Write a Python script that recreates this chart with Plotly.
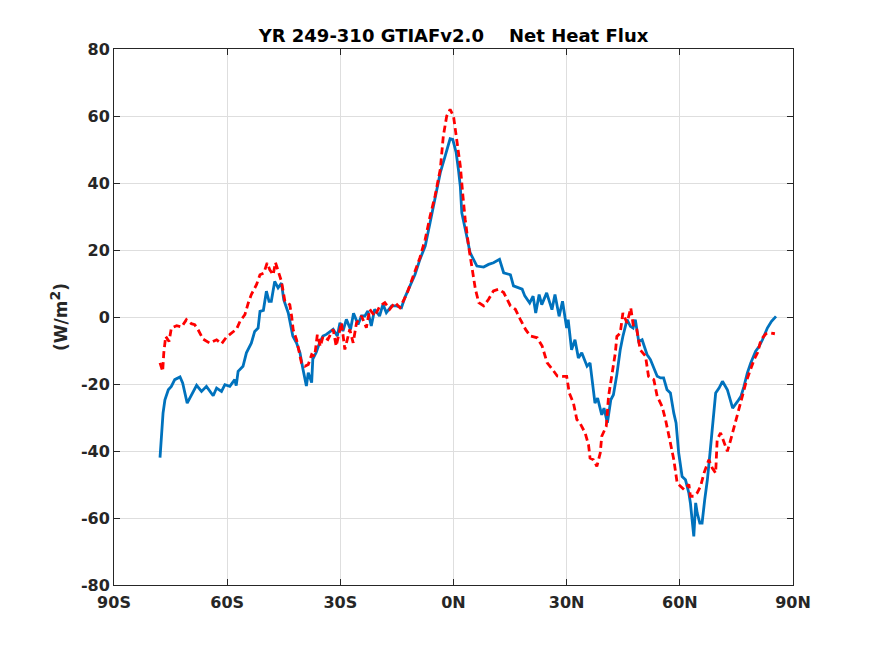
import plotly.graph_objects as go

# blue (solid) series: latitude and net heat flux
lat_blue = [-77.8, -77.4, -77.0, -76.5, -75.6, -74.8, -73.9, -72.5, -71.8, -70.6, -69.5,
            -68.1, -66.8, -65.5, -63.7, -62.8, -61.5, -60.6, -59.3, -58.0, -57.6, -57.1,
            -55.8, -54.9, -53.6, -52.7, -51.8, -51.3, -50.4, -49.6, -48.9, -48.3, -47.4,
            -46.5, -45.6, -45.0, -43.8, -42.6, -41.6, -40.7, -39.9, -39.0, -38.5, -37.6,
            -37.3, -36.4, -35.5, -34.6, -33.7, -31.9, -30.8, -30.1, -29.3, -28.4, -27.3,
            -26.5, -25.3, -24.4, -23.5, -22.7, -21.8, -20.9, -19.6, -18.7, -17.8, -16.4,
            -15.1, -13.8, -12.9, -11.5, -10.2, -8.9, -7.5, -6.2, -4.9, -3.5, -2.2, -0.9,
            -0.2, 0.7, 1.3, 1.8, 2.2, 2.8, 3.5, 4.4, 5.3, 6.2, 8.0, 9.3, 10.6, 12.2, 13.3,
            15.1, 15.9, 17.3, 18.2, 18.9, 20.2, 21.1, 21.8, 22.7, 23.4, 24.7, 26.1, 26.9,
            28.0, 28.9, 30.0, 30.4, 31.3, 32.2, 33.1, 34.0, 35.4, 36.2, 37.5, 38.2, 39.3,
            39.9, 40.8, 41.7, 42.4, 43.3, 44.2, 44.9, 46.0, 46.9, 47.6, 48.2, 49.1, 50.0,
            51.3, 52.2, 54.0, 54.9, 55.7, 56.6, 57.5, 58.4, 59.0, 59.7, 60.6, 61.5, 62.4,
            62.8, 63.3, 63.7, 64.2, 64.6, 65.3, 65.9, 66.6, 67.3, 68.0, 68.6, 69.5, 70.4,
            71.3, 72.6, 74.0, 75.3, 76.2, 77.0, 77.9, 78.8, 80.1, 81.0, 81.9, 83.2, 84.3,
            85.5]
flux_blue = [-42.0, -35.6, -28.7, -24.7, -21.7, -20.7, -18.7, -17.9, -19.7, -25.7, -23.2,
             -20.4, -22.2, -20.7, -23.5, -21.2, -22.2, -20.2, -20.7, -18.7, -20.5, -16.2,
             -14.7, -10.7, -7.8, -4.3, -3.3, 1.7, 2.0, 7.7, 4.7, 4.7, 10.6, 8.7, 10.1,
             5.2, 1.2, -5.7, -7.8, -10.7, -15.6, -20.6, -16.6, -19.6, -12.6, -10.6, -7.7,
             -5.7, -5.2, -3.7, -5.7, -1.7, -4.2, -0.7, -3.7, 1.1, -2.2, 0.3, 0.3, 1.8,
             -2.7, 2.3, 0.3, 3.8, 1.3, 3.3, 3.3, 2.8, 5.8, 9.3, 12.7, 17.2, 21.2, 28.2,
             35.1, 43.1, 48.1, 53.2, 53.0, 49.1, 44.1, 39.1, 31.1, 28.2, 24.2, 19.2, 17.2,
             15.2, 14.9, 15.7, 16.2, 17.2, 13.2, 12.6, 9.3, 8.7, 8.3, 6.3, 4.2, 6.2, 1.2,
             6.7, 3.7, 7.2, 2.2, 6.7, 0.2, 4.7, -3.3, -0.8, -9.8, -6.8, -12.2, -10.7,
             -14.7, -13.7, -25.7, -24.2, -29.2, -27.2, -31.6, -24.7, -23.2, -17.2, -9.8,
             -5.8, -0.8, -2.8, -3.3, -0.8, -7.3, -6.8, -11.2, -12.7, -17.7, -18.2, -18.2,
             -21.7, -22.7, -28.7, -31.6, -40.6, -47.6, -48.6, -52.6, -55.5, -61.5, -65.5,
             -55.5, -58.5, -61.5, -61.5, -54.5, -48.6, -40.6, -32.6, -22.7, -21.2, -19.2,
             -21.7, -27.2, -25.2, -23.7, -20.7, -16.7, -13.7, -10.2, -8.8, -6.8, -3.3,
             -1.3, 0.2, 2.4]

# red (dashed) series, ten values per row in both lists
lat_red = [-77.8, -77.1, -76.8, -76.3, -75.4, -74.8, -73.4, -72.1, -70.8, -69.5,
           -68.6, -67.7, -66.4, -64.6, -62.8, -61.5, -60.2, -58.9, -57.5, -56.6,
           -55.3, -54.4, -53.6, -52.2, -51.3, -50.3, -49.4, -48.7, -47.8, -47.2,
           -46.5, -45.6, -44.7, -43.4, -42.9, -42.5, -41.6, -40.7, -40.3, -39.4,
           -38.5, -37.6, -36.8, -36.1, -35.3, -34.6, -33.3, -31.9, -31.1, -29.7,
           -28.8, -27.5, -26.6, -25.7, -24.4, -23.1, -22.2, -20.9, -19.5, -18.2,
           -16.9, -15.5, -14.2, -12.4, -11.5, -10.2, -8.9, -7.5, -6.2, -4.9,
           -3.5, -2.7, -1.8, -0.9, 0.0, 0.9, 1.8, 2.5, 3.1, 4.0,
           4.9, 5.8, 6.7, 8.0, 9.3, 10.6, 12.0, 13.3, 15.1, 16.4,
           17.7, 19.1, 20.4, 22.2, 23.5, 24.8, 26.2, 27.5, 28.9, 30.0,
           30.7, 31.8, 32.7, 33.5, 34.9, 35.8, 36.2, 37.1, 38.0, 38.9,
           39.3, 40.5, 41.1, 42.0, 42.9, 43.3, 44.2, 44.9, 46.0, 47.0,
           47.7, 48.6, 49.5, 50.9, 51.7, 53.1, 54.0, 55.3, 56.2, 57.5,
           58.4, 59.3, 60.2, 61.1, 62.4, 62.8, 63.7, 64.6, 65.5, 66.4,
           67.7, 68.6, 69.5, 69.9, 70.8, 71.7, 72.6, 73.5, 74.4, 75.7,
           76.6, 77.5, 78.4, 79.7, 80.6, 81.5, 82.8, 84.2, 85.2]
flux_red = [-13.7, -16.2, -10.7, -5.8, -7.3, -3.3, -2.6, -3.0, -0.8, -2.0,
            -2.3, -3.8, -6.6, -7.8, -6.8, -8.0, -6.0, -4.8, -3.6, -1.3,
            0.7, 4.2, 6.7, 9.7, 12.6, 13.1, 16.1, 14.1, 12.6, 16.3,
            13.6, 10.6, 4.7, 3.7, 0.2, -3.8, -6.8, -11.2, -13.7, -14.7,
            -14.2, -11.2, -11.7, -5.3, -8.8, -5.8, -6.7, -3.7, -8.7, -1.7,
            -9.7, -3.7, -7.7, -1.7, 0.3, -3.2, 2.3, 0.3, 3.3, 4.3,
            2.3, 4.3, 2.8, 6.8, 9.8, 13.7, 17.7, 23.2, 30.1, 36.1,
            44.1, 54.0, 60.0, 62.0, 60.0, 53.0, 45.1, 36.1, 29.2, 21.2,
            15.2, 8.3, 4.3, 3.3, 5.3, 7.8, 8.3, 7.3, 3.3, 2.3,
            -0.7, -3.7, -5.7, -6.2, -8.7, -13.6, -15.6, -17.6, -17.7, -17.7,
            -22.7, -25.7, -30.6, -31.6, -34.6, -38.2, -42.1, -42.6, -44.6, -40.6,
            -35.6, -32.6, -23.7, -16.7, -10.7, -5.8, -4.8, 1.2, -1.8, 2.7,
            -2.8, -3.8, -9.8, -11.7, -17.7, -18.7, -23.7, -26.7, -30.6, -37.6,
            -42.6, -49.6, -50.5, -51.5, -50.0, -53.5, -53.5, -52.5, -50.5, -46.6,
            -42.6, -45.1, -46.6, -36.6, -34.6, -37.1, -40.1, -36.6, -32.6, -27.7,
            -23.7, -19.7, -16.7, -12.7, -10.7, -6.8, -5.0, -4.8, -5.0]

x_ticks = [-90, -60, -30, 0, 30, 60, 90]
x_tick_labels = ["90S", "60S", "30S", "0N", "30N", "60N", "90N"]
y_ticks = [-80, -60, -40, -20, 0, 20, 40, 60, 80]
y_tick_labels = [str(v) for v in y_ticks]  # plain hyphen, like the original

ink = "#262626"
font_family = "DejaVu Sans"

fig = go.Figure()
fig.add_trace(go.Scatter(x=lat_blue, y=flux_blue, mode="lines",
                         line=dict(color="#0072BD", width=2.8)))
fig.add_trace(go.Scatter(x=lat_red, y=flux_red, mode="lines",
                         line=dict(color="#FF0000", width=2.8, dash="7px,4px")))

axis_style = dict(showline=True, linecolor=ink, linewidth=1, mirror="ticks",
                  ticks="inside", ticklen=6, tickcolor=ink,
                  showgrid=True, gridcolor="#dedede", gridwidth=1,
                  zeroline=False,
                  tickfont=dict(family=font_family, size=16, color=ink, weight="bold"))

# the page puts the figure 8px in from the top-left corner, so margins allow for it
fig.update_layout(
    width=875, height=656,
    margin=dict(l=106, r=90, t=41, b=79, autoexpand=False),
    paper_bgcolor="white", plot_bgcolor="white",
    showlegend=False,
    title=dict(text="<b>YR 249-310 GTIAFv2.0&nbsp;&nbsp;&nbsp;&nbsp;Net Heat Flux</b>",
               x=0.5, xanchor="center", xref="paper",
               y=1 - 28 / 656, yanchor="middle",
               font=dict(family=font_family, size=18, color="black")),
    xaxis=dict(range=[-90, 90], tickvals=x_ticks, ticktext=x_tick_labels,
               ticklabelstandoff=3, **axis_style),
    yaxis=dict(range=[-80, 80], tickvals=y_ticks, ticktext=y_tick_labels,
               title=dict(text="<b>(W/m<sup><span style=\"font-size:14px\">2</span></sup>)</b>",
                          standoff=8,
                          font=dict(family=font_family, size=17, color=ink)),
               **axis_style),
)

fig.write_html("out.html")
